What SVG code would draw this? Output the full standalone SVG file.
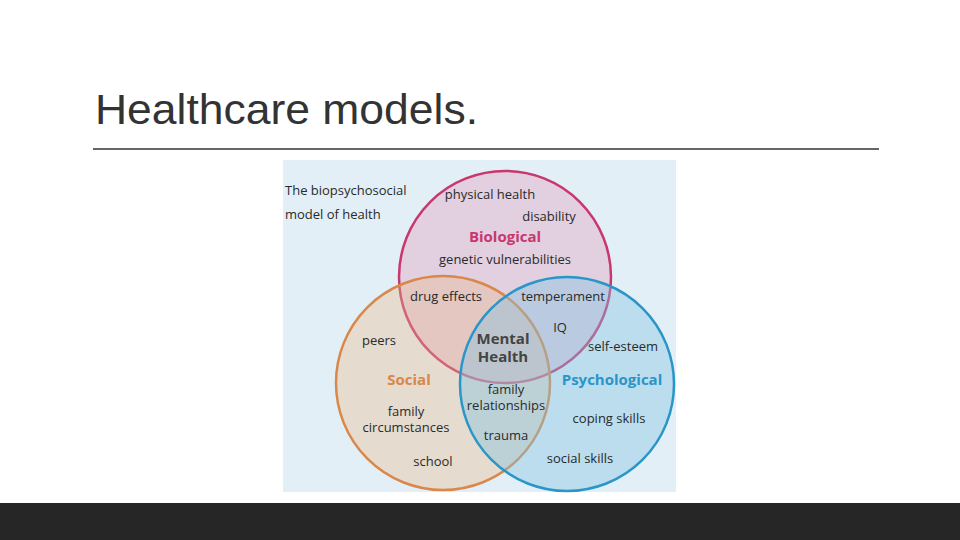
<svg xmlns="http://www.w3.org/2000/svg" width="960" height="540" viewBox="0 0 960 540">
<style>
.t{font-family:"Open Sans","Liberation Sans",sans-serif;font-size:13px;fill:#2a2a2a;text-anchor:middle}
.h{font-family:"Open Sans","Liberation Sans",sans-serif;font-size:15px;font-weight:bold;text-anchor:middle}
</style>
<rect width="960" height="540" fill="#fff"/>
<text x="95" y="124" font-family="Liberation Sans, sans-serif" font-size="43" fill="#333" textLength="383" lengthAdjust="spacingAndGlyphs">Healthcare models.</text>
<line x1="93" y1="149" x2="879" y2="149" stroke="#333" stroke-width="1.5"/>
<rect x="283" y="160" width="393" height="332" fill="#e3eff6"/>
<g id="biological"><circle cx="505" cy="277" r="106" fill="#dfa8c4" fill-opacity="0.45" stroke="#c8376e" stroke-width="2.5"/></g>
<g id="social"><circle cx="443" cy="383" r="107" fill="#e8b888" fill-opacity="0.35" stroke="#d9874a" stroke-width="2.5"/></g>
<g id="psychological"><circle cx="567" cy="384" r="107" fill="#7fc4e2" fill-opacity="0.4" stroke="#2a95c8" stroke-width="2.5"/></g>
<g id="labels">
<text x="285" y="195" class="t" style="text-anchor:start">The biopsychosocial</text>
<text x="285" y="219" class="t" style="text-anchor:start">model of health</text>
<text x="490" y="199" class="t">physical health</text>
<text x="549" y="221" class="t">disability</text>
<text x="505" y="242" class="h" fill="#c8376e">Biological</text>
<text x="505" y="264" class="t">genetic vulnerabilities</text>
<text x="446" y="301" class="t">drug effects</text>
<text x="563" y="301" class="t">temperament</text>
<text x="560" y="332" class="t">IQ</text>
<text x="379" y="345" class="t">peers</text>
<text x="503" y="344" class="h" fill="#444">Mental</text>
<text x="503" y="362" class="h" fill="#444">Health</text>
<text x="623" y="351" class="t">self-esteem</text>
<text x="409" y="385" class="h" fill="#d9874a">Social</text>
<text x="612" y="385" class="h" fill="#2a95c8">Psychological</text>
<text x="506" y="394" class="t">family</text>
<text x="506" y="410" class="t">relationships</text>
<text x="406" y="416" class="t">family</text>
<text x="406" y="432" class="t">circumstances</text>
<text x="609" y="423" class="t">coping skills</text>
<text x="506" y="440" class="t">trauma</text>
<text x="433" y="466" class="t">school</text>
<text x="580" y="463" class="t">social skills</text>
</g>
<rect x="0" y="503" width="960" height="37" fill="#262626"/>
</svg>
